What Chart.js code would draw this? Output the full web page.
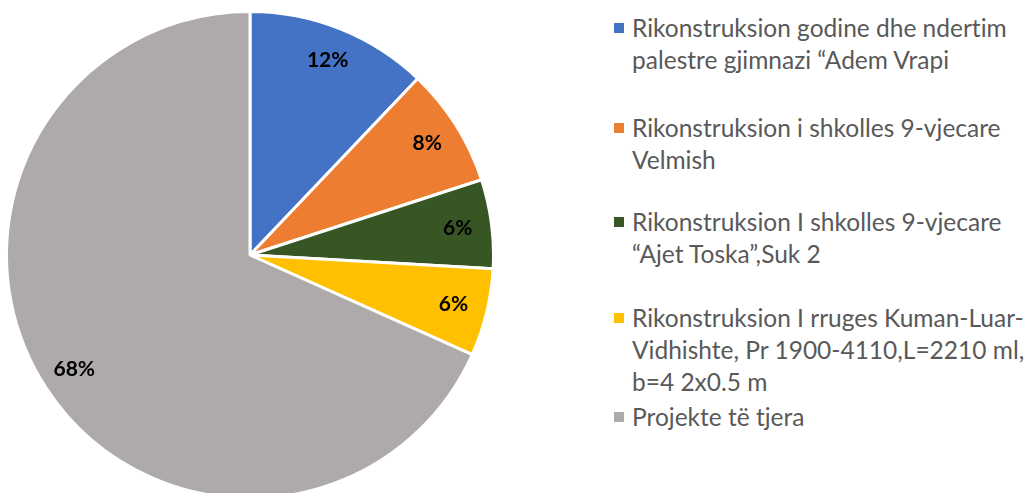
<!DOCTYPE html>
<html>
<head>
<meta charset="utf-8">
<script src="https://cdn.jsdelivr.net/npm/chart.js@4"></script>
<style>
  html, body { margin: 0; padding: 0; background: #fff; overflow: hidden; }
  body { width: 1027px; height: 493px; position: relative; font-family: Lato, sans-serif; }
  #pieWrap { position: absolute; left: 5px; top: 10px; width: 490px; height: 490px; }
  #legend { position: absolute; left: 614px; top: 0; list-style: none; margin: 0; padding: 0; }
  #legend li { position: absolute; left: 0; white-space: nowrap; color: #595959; font-size: 24.5px; line-height: 32px; font-variant-ligatures: none; }
  #legend .box { position: absolute; left: 0; top: 11px; width: 10px; height: 10px; }
  #legend .txt { position: absolute; left: 18px; top: 0; }
</style>
</head>
<body>
<div id="pieWrap"><canvas id="pieChart"></canvas></div>
<ul id="legend"></ul>
<script>
// Data
const labels = [
    ['Rikonstruksion godine dhe ndertim', 'palestre gjimnazi “Adem Vrapi'],
    ['Rikonstruksion i shkolles 9-vjecare', 'Velmish'],
    ['Rikonstruksion I shkolles 9-vjecare', '“Ajet Toska”,Suk 2'],
    ['Rikonstruksion I rruges Kuman-Luar-', 'Vidhishte, Pr 1900-4110,L=2210 ml,', 'b=4 2x0.5 m'],
    ['Projekte të tjera']
];
const values = [12.1, 7.9, 5.9, 5.8, 68.3];
const colors = ['#4472C4', '#ED7D31', '#375623', '#FFC000', '#AEAAAA'];

// legend item tops (layout)
const legendTops = [12, 112, 206, 302, 401];

// Percent labels drawn on slices
const pctLabels = {
    id: 'pctLabels',
    afterDatasetsDraw(chart) {
        const ctx = chart.ctx;
        const meta = chart.getDatasetMeta(0);
        const total = values.reduce((a, b) => a + b, 0);
        ctx.save();
        ctx.font = 'bold 21px Lato, sans-serif';
        ctx.fillStyle = '#000';
        ctx.textAlign = 'center';
        ctx.textBaseline = 'middle';
        meta.data.forEach((arc, i) => {
            const mid = (arc.startAngle + arc.endAngle) / 2;
            const r = arc.outerRadius * 0.86;
            const x = arc.x + Math.cos(mid) * r;
            const y = arc.y + Math.sin(mid) * r;
            ctx.fillText(Math.round(values[i] / total * 100) + '%', x, y);
        });
        ctx.restore();
    }
};

const pieCtx = document.getElementById('pieChart').getContext('2d');
const pieChart = new Chart(pieCtx, {
    type: 'pie',
    data: {
        labels: labels,
        datasets: [{
            data: values,
            backgroundColor: colors,
            borderColor: '#fff',
            borderWidth: 3,
            hoverBorderWidth: 3
        }]
    },
    options: {
        responsive: true,
        maintainAspectRatio: false,
        animation: false,
        layout: { padding: 0 },
        plugins: {
            legend: { display: false },
            tooltip: { enabled: false }
        }
    },
    plugins: [pctLabels]
});

// HTML legend
const legendEl = document.getElementById('legend');
labels.forEach((lines, i) => {
    const li = document.createElement('li');
    li.style.top = legendTops[i] + 'px';
    li.innerHTML = '<span class="box" style="background:' + colors[i] + '"></span>' +
        '<span class="txt">' + lines.join('<br>') + '</span>';
    legendEl.appendChild(li);
});
</script>
</body>
</html>
